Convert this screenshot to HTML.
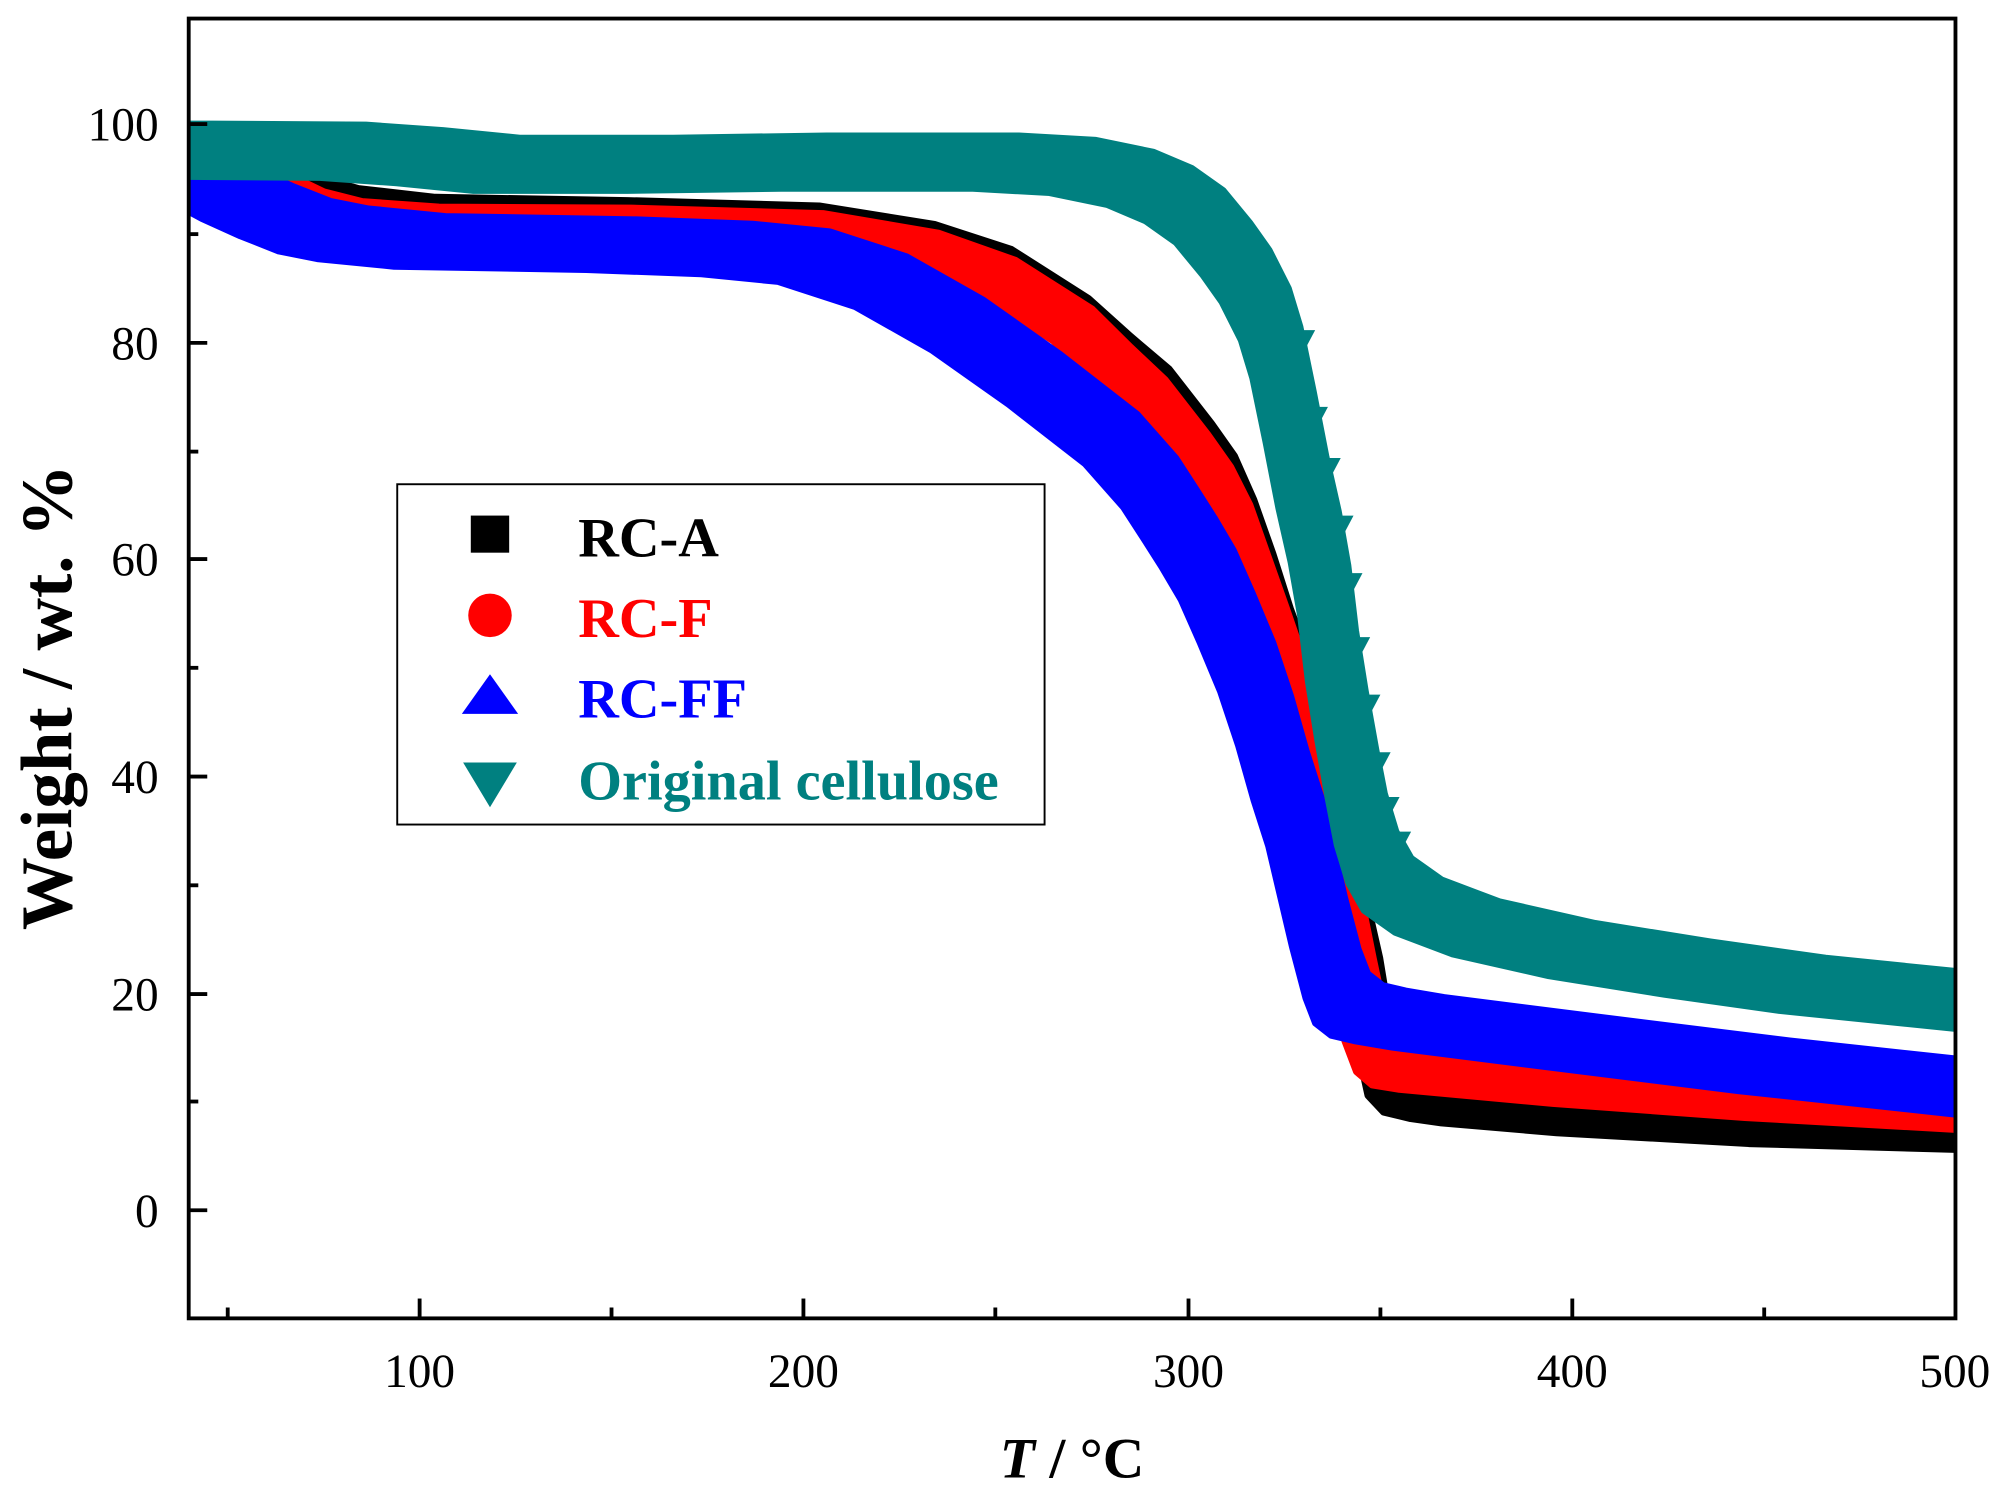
<!DOCTYPE html>
<html><head><meta charset="utf-8"><style>
html,body{margin:0;padding:0;background:#fff;}
svg{display:block;}
</style></head><body>
<svg width="2006" height="1493" viewBox="0 0 1568 1167" preserveAspectRatio="none" font-family="Liberation Serif, serif" xmlns:xlink="http://www.w3.org/1999/xlink">
<defs>
<clipPath id="c"><rect x="147" y="14" width="1381" height="1016"/></clipPath>
<g id="k" transform="translate(148,946) scale(3.0022,-8.49) translate(-40,0)"><polyline vector-effect="non-scaling-stroke" fill="none" stroke="#000" stroke-width="8" stroke-linejoin="round" points="30,99 40,98 50,97 60,95.2 70,93.6 80,92.6 100,91.8 150,91.5 200,91 230,89.3 250,87 270,82.5 281,79 291,76 302,71 308,68 313,64 318,59 322.5,54 326.8,49.9 332,42.5 337.1,35.8 341.5,28.5 345.8,21.8 348.5,16 351,12 355,10.5 362,9.9 370,9.5 400,8.6 450,7.6 510,7"/></g>
<g id="r" transform="translate(148,946) scale(3.0022,-8.49) translate(-40,0)"><polyline vector-effect="non-scaling-stroke" fill="none" stroke="#f00" stroke-width="8" stroke-linejoin="round" points="30,98 40,97 50,96 60,94 70,92.3 80,91.4 100,90.9 150,90.8 200,90.3 230,88.5 250,86 270,81.5 280,78 289,75 300,70 306,67 311,63.5 316,58.5 320.5,54 324.5,49.9 330,42.5 334.8,35.8 339,29 343.1,21.8 346,17 349,14.2 353,13 360,12.6 400,11.3 450,10 510,8.8"/></g>
<g id="b" transform="translate(148,946) scale(3.0022,-8.49) translate(-40,0)"><polyline vector-effect="non-scaling-stroke" fill="none" stroke="#00f" stroke-width="8" stroke-linejoin="round" points="30,97 40,95.5 50,93.6 60,92 70,90.6 80,89.9 100,89.2 150,88.9 180,88.5 200,87.8 220,85.5 240,81.5 260,76.5 280,71 290,67 295.5,64 300,61.5 305,58.5 310,54.5 315.3,50 320,45 324,40 327.8,35.8 331,31 334,26.5 337.5,21.8 340,19.5 344,18.4 350,17.9 360,17.3 400,15.5 450,13.3 510,11"/></g>
<g id="t" transform="translate(148,946) scale(3.0022,-8.49) translate(-40,0)"><polyline vector-effect="non-scaling-stroke" fill="none" stroke="#008080" stroke-width="8" stroke-linejoin="round" points="30,97.6 40,97.6 80,97.5 100,97 120,96.3 160,96.3 200,96.5 250,96.5 270,96.1 285,95 295,93.5 303,91.5 310,88.5 315,86 320,82.5 323,79 326.5,73 329.8,67 333,62 335.5,57 337.5,51 340,45.5 342.8,40 345,36 348,32.5 352,30 360,28 375,26 400,24 430,22.3 460,20.8 510,19"/></g>
</defs>
<g clip-path="url(#c)">
<g>
<use xlink:href="#k" x="-12" y="12"/><use xlink:href="#k" x="-9" y="9"/><use xlink:href="#k" x="-6" y="6"/><use xlink:href="#k" x="-3" y="3"/><use xlink:href="#k" x="0" y="0"/><use xlink:href="#k" x="3" y="-3"/><use xlink:href="#k" x="6" y="-6"/><use xlink:href="#k" x="9" y="-9"/><use xlink:href="#k" x="12" y="-12"/>
</g>
<g>
<use xlink:href="#r" x="-15" y="12"/><use xlink:href="#r" x="-11.25" y="9"/><use xlink:href="#r" x="-7.5" y="6"/><use xlink:href="#r" x="-3.75" y="3"/><use xlink:href="#r" x="0" y="0"/><use xlink:href="#r" x="3.75" y="-3"/><use xlink:href="#r" x="7.5" y="-6"/><use xlink:href="#r" x="11.25" y="-9"/><use xlink:href="#r" x="15" y="-12"/>
</g>
<g>
<use xlink:href="#b" x="-20" y="19"/><use xlink:href="#b" x="-17.5" y="16.625"/><use xlink:href="#b" x="-15" y="14.25"/><use xlink:href="#b" x="-12.5" y="11.875"/><use xlink:href="#b" x="-10" y="9.5"/><use xlink:href="#b" x="-7.5" y="7.125"/><use xlink:href="#b" x="-5" y="4.75"/><use xlink:href="#b" x="-2.5" y="2.375"/><use xlink:href="#b" x="0" y="0"/><use xlink:href="#b" x="2.5" y="-2.375"/><use xlink:href="#b" x="5" y="-4.75"/><use xlink:href="#b" x="7.5" y="-7.125"/><use xlink:href="#b" x="10" y="-9.5"/><use xlink:href="#b" x="12.5" y="-11.875"/><use xlink:href="#b" x="15" y="-14.25"/><use xlink:href="#b" x="17.5" y="-16.625"/><use xlink:href="#b" x="20" y="-19"/>
</g>
<g>
<use xlink:href="#t" x="-18" y="20"/><use xlink:href="#t" x="-15.75" y="17.5"/><use xlink:href="#t" x="-13.5" y="15"/><use xlink:href="#t" x="-11.25" y="12.5"/><use xlink:href="#t" x="-9" y="10"/><use xlink:href="#t" x="-6.75" y="7.5"/><use xlink:href="#t" x="-4.5" y="5"/><use xlink:href="#t" x="-2.25" y="2.5"/><use xlink:href="#t" x="0" y="0"/><use xlink:href="#t" x="2.25" y="-2.5"/><use xlink:href="#t" x="4.5" y="-5"/><use xlink:href="#t" x="6.75" y="-7.5"/><use xlink:href="#t" x="9" y="-10"/><use xlink:href="#t" x="11.25" y="-12.5"/><use xlink:href="#t" x="13.5" y="-15"/><use xlink:href="#t" x="15.75" y="-17.5"/><use xlink:href="#t" x="18" y="-20"/>
</g>
<g fill="#008080">
<polygon points="992,258 1028,258 1010,292"/>
<polygon points="1002,318 1038,318 1020,352"/>
<polygon points="1012,358 1048,358 1030,392"/>
<polygon points="1022,403 1058,403 1040,437"/>
<polygon points="1029,448 1065,448 1047,482"/>
<polygon points="1035,498 1071,498 1053,532"/>
<polygon points="1043,543 1079,543 1061,577"/>
<polygon points="1051,588 1087,588 1069,622"/>
<polygon points="1058,623 1094,623 1076,657"/>
<polygon points="1067,650 1103,650 1085,684"/>
</g>
</g>
<rect x="147.5" y="14.5" width="1381" height="1016" fill="none" stroke="#000" stroke-width="3"/>
<g stroke="#000" stroke-width="3">
<line x1="328" y1="1030" x2="328" y2="1015"/><line x1="628" y1="1030" x2="628" y2="1015"/><line x1="929" y1="1030" x2="929" y2="1015"/><line x1="1229" y1="1030" x2="1229" y2="1015"/>
<line x1="178" y1="1030" x2="178" y2="1022"/><line x1="478" y1="1030" x2="478" y2="1022"/><line x1="778" y1="1030" x2="778" y2="1022"/><line x1="1079" y1="1030" x2="1079" y2="1022"/><line x1="1379" y1="1030" x2="1379" y2="1022"/>
<line x1="147" y1="946" x2="162" y2="946"/><line x1="147" y1="777" x2="162" y2="777"/><line x1="147" y1="607" x2="162" y2="607"/><line x1="147" y1="437" x2="162" y2="437"/><line x1="147" y1="268" x2="162" y2="268"/><line x1="147" y1="97" x2="162" y2="97"/>
<line x1="147" y1="861" x2="155" y2="861"/><line x1="147" y1="692" x2="155" y2="692"/><line x1="147" y1="522" x2="155" y2="522"/><line x1="147" y1="353" x2="155" y2="353"/><line x1="147" y1="183" x2="155" y2="183"/>
</g>
<g font-size="37" text-anchor="middle">
<text x="328" y="1084">100</text><text x="628" y="1084">200</text><text x="929" y="1084">300</text><text x="1229" y="1084">400</text><text x="1528" y="1084">500</text>
</g>
<g font-size="37" text-anchor="end">
<text x="124" y="959">0</text><text x="124" y="790">20</text><text x="124" y="620">40</text><text x="124" y="450">60</text><text x="124" y="281">80</text><text x="124" y="110">100</text>
</g>
<text x="838" y="1155" font-size="45" font-weight="bold" text-anchor="middle"><tspan font-style="italic">T</tspan> / °C</text>
<text transform="translate(56,545) rotate(-90)" font-size="57" font-weight="bold" text-anchor="middle">Weight / wt. %</text>
<rect x="310.5" y="378.5" width="506" height="266" fill="#fff" stroke="#000" stroke-width="1.5"/>
<rect x="368" y="403" width="30" height="29" fill="#000"/>
<circle cx="383" cy="481" r="17" fill="#f00"/>
<polygon points="383,527 405,558 361,558" fill="#00f"/>
<polygon points="362,596 404,596 383,631" fill="#008080"/>
<g font-size="44" font-weight="bold">
<text x="452" y="435" fill="#000">RC-A</text>
<text x="452" y="498" fill="#f00">RC-F</text>
<text x="452" y="561" fill="#00f">RC-FF</text>
<text x="452" y="625" fill="#008080">Original cellulose</text>
</g>
</svg>
</body></html>
